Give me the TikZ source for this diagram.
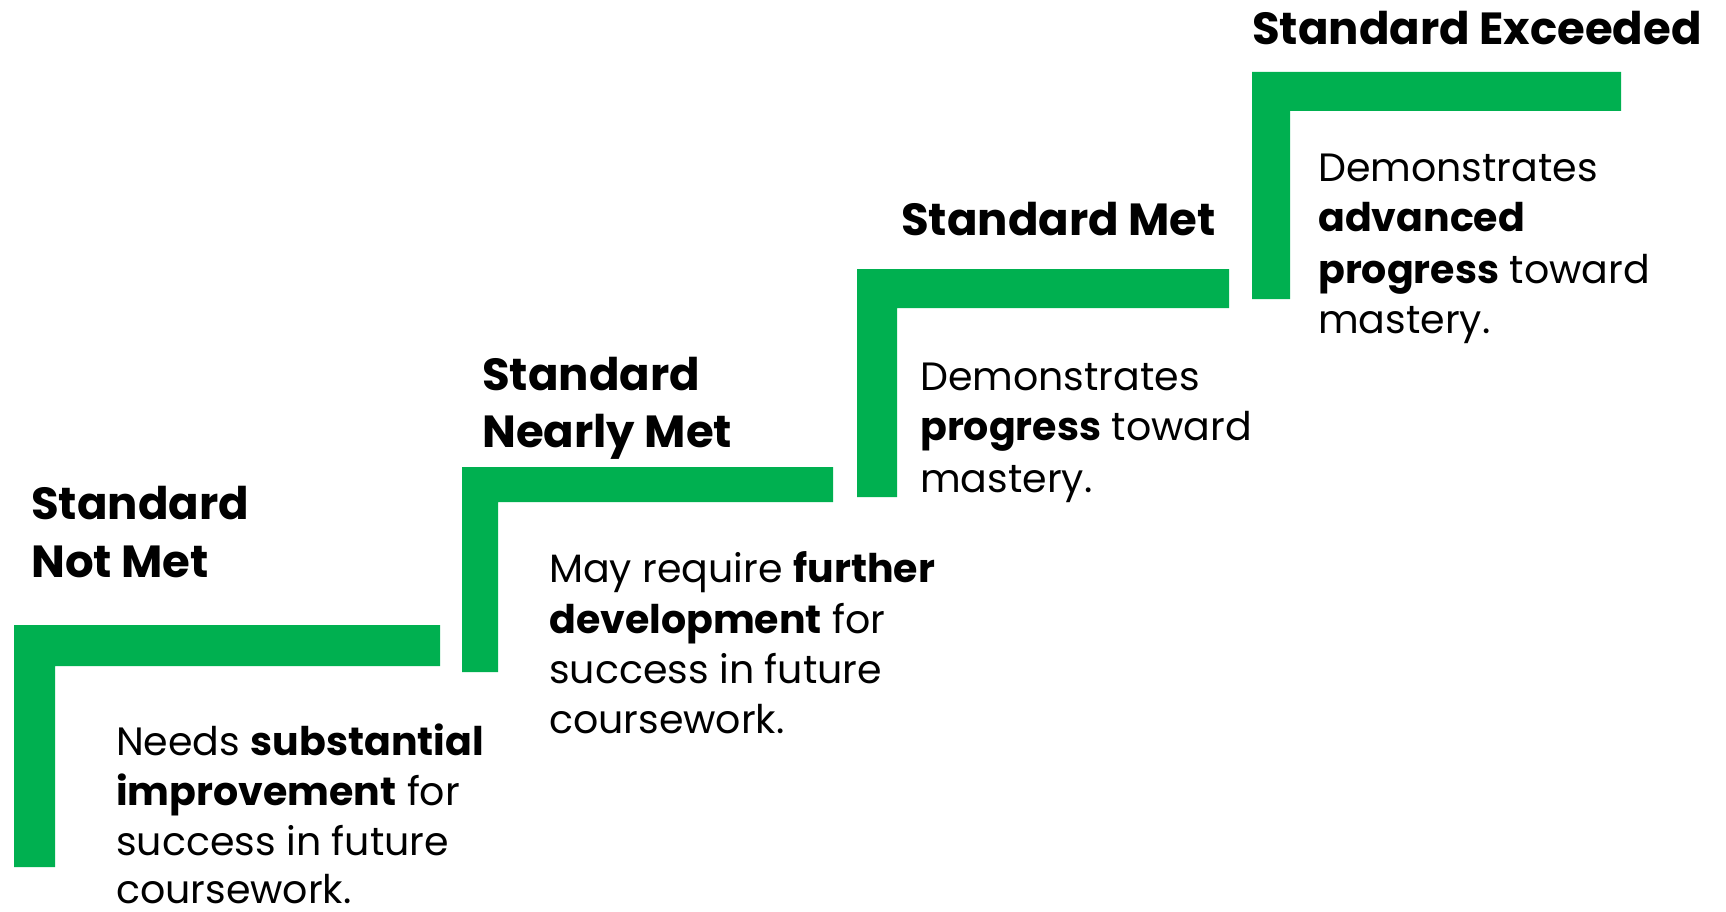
\documentclass[tikz,border=0pt]{standalone}
\usepackage{fontspec}
\setmainfont{Poppins}
\definecolor{stepgreen}{RGB}{0,176,80}
\begin{document}
\begin{tikzpicture}[x=1pt,y=-1pt,
  titletext/.style={anchor=base west, inner sep=0pt, font=\fontsize{45}{50}\selectfont\bfseries},
  bodytext/.style={anchor=base west, inner sep=0pt, font=\fontsize{39.5}{50}\selectfont},
  stepbar/.style={fill=stepgreen}]
\useasboundingbox (0,0) rectangle (1726,912);
% step bars
\fill[stepbar] (14,625) -- (440,625) -- (440,666) -- (55,666) -- (55,867) -- (14,867) -- cycle;
\fill[stepbar] (462,467) -- (833,467) -- (833,502) -- (498,502) -- (498,672) -- (462,672) -- cycle;
\fill[stepbar] (857,269) -- (1229,269) -- (1229,308) -- (897,308) -- (897,497) -- (857,497) -- cycle;
\fill[stepbar] (1252,72) -- (1621,72) -- (1621,111) -- (1290,111) -- (1290,299) -- (1252,299) -- cycle;
% titles
\node[titletext] (t1a) at (31,519) {Standard};
\node[titletext] (t1b) at (31,577) {Not Met};
\node[titletext] (t2a) at (482,390) {Standard};
\node[titletext] (t2b) at (482,447) {Nearly Met};
\node[titletext] (t3) at (901,235) {Standard Met};
\node[titletext] (t4) at (1252,45) {Standard Exceeded};
% bodies
\node[bodytext] (b1a) at (116,755) {Needs \textbf{substantial}};
\node[bodytext] (b1b) at (116,805) {\textbf{improvement} for};
\node[bodytext] (b1c) at (116,855) {success in future};
\node[bodytext, text depth=0pt] (b1d) at (116,903) {coursework.};
\node[bodytext] (b2a) at (549,582) {May require \textbf{further}};
\node[bodytext] (b2b) at (549,633) {\textbf{development} for};
\node[bodytext] (b2c) at (549,683) {success in future};
\node[bodytext] (b2d) at (549,733) {coursework.};
\node[bodytext] (b3a) at (920,390) {Demonstrates};
\node[bodytext] (b3b) at (920,440) {\textbf{progress} toward};
\node[bodytext] (b3c) at (920,492) {mastery.};
\node[bodytext] (b4a) at (1318,182) {Demonstrates};
\node[bodytext] (b4b) at (1318,232) {\textbf{advanced}};
\node[bodytext] (b4c) at (1318,283) {\textbf{progress} toward};
\node[bodytext] (b4d) at (1318,333) {mastery.};
\end{tikzpicture}
\end{document}
